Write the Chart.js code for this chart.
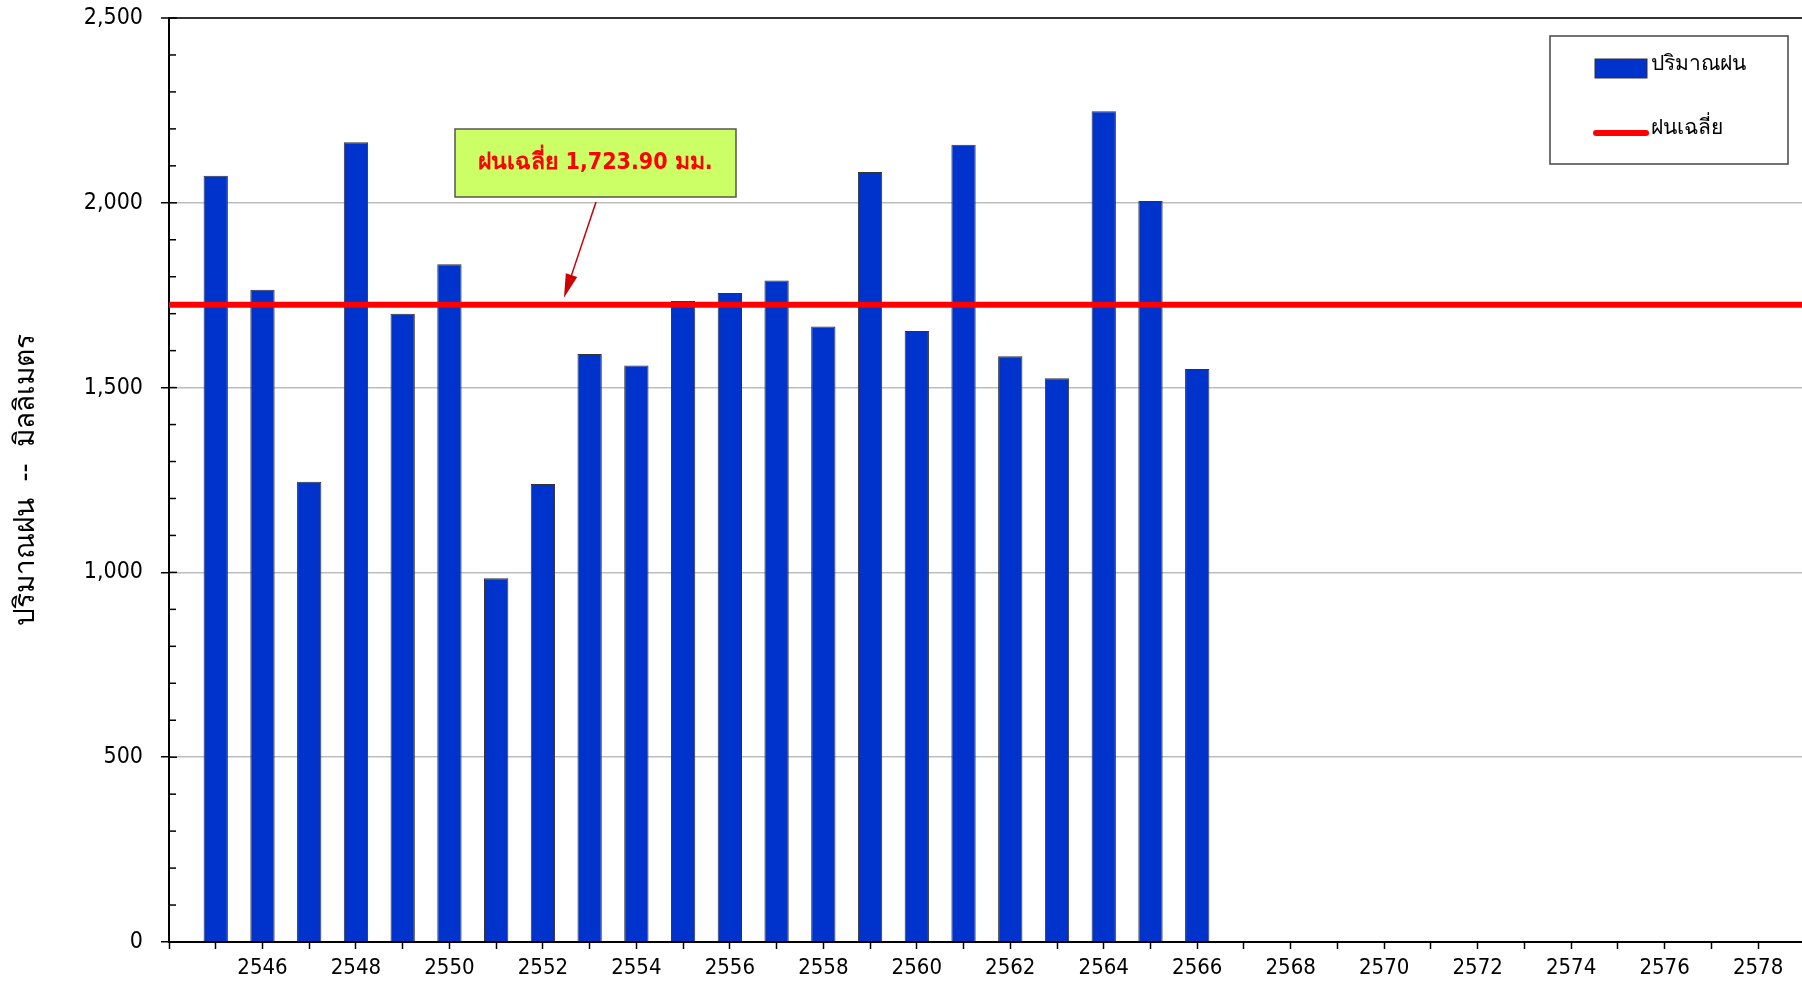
<!DOCTYPE html>
<html>
<head>
<meta charset="utf-8">
<script src="https://cdn.jsdelivr.net/npm/chart.js@4.4.1/dist/chart.umd.min.js"></script>
<style>
  html, body { margin: 0; padding: 0; background: #fff; }
  #wrap { width: 1802px; height: 982px; position: relative; }
</style>
</head>
<body>
<div id="wrap"><canvas id="rainChart"></canvas></div>
<script>
  // rain per year (Buddhist era), mm
  const years = [2545, 2546, 2547, 2548, 2549, 2550, 2551, 2552, 2553, 2554, 2555,
                 2556, 2557, 2558, 2559, 2560, 2561, 2562, 2563, 2564, 2565, 2566];
  const rainfall = [2073, 1765, 1245, 2164, 1700, 1834, 984, 1239, 1591, 1560, 1734,
                    1756, 1790, 1665, 2083, 1653, 2157, 1585, 1525, 2248, 2005, 1550];
  const avgRain = 1723.90;
  const xRange = [2544, 2578.94];
  const yTicks = [0, 500, 1000, 1500, 2000, 2500];

  const seriesLabels = ['ปริมาณฝน', 'ฝนเฉลี่ย'];
  const axisTitle = 'ปริมาณฝน  --  มิลลิเมตร';
  const noteText = 'ฝนเฉลี่ย 1,723.90 มม.';

  const FONT = 'Tahoma, "DejaVu Sans Condensed", "DejaVu Sans", sans-serif';
  const BLUE = '#0033CC';
  const RED = '#FF0000';

  // minor ticks inside the y axis + note box + legend box
  const extrasPlugin = {
    id: 'extras',
    afterDraw(chart) {
      const c = chart.ctx;
      const area = chart.chartArea;
      const ys = chart.scales.y;
      const xs = chart.scales.x;

      // ticks pointing into the plot
      c.save();
      c.strokeStyle = '#000';
      c.lineWidth = 1.5;
      ys.ticks.forEach(t => {
        const py = ys.getPixelForValue(t.value);
        const len = (t.value % 500 === 0) ? 8 : 7;
        c.beginPath();
        c.moveTo(area.left, py);
        c.lineTo(area.left + len, py);
        c.stroke();
      });
      c.restore();

      // annotation box
      const bx = 455, by = 129, bw = 281, bh = 68;
      c.save();
      c.fillStyle = '#CCFF66';
      c.strokeStyle = '#555';
      c.lineWidth = 1.5;
      c.fillRect(bx, by, bw, bh);
      c.strokeRect(bx, by, bw, bh);
      c.fillStyle = RED;
      c.font = 'bold 23px ' + FONT;
      c.textAlign = 'center';
      c.textBaseline = 'middle';
      c.fillText(noteText, bx + bw / 2, by + bh / 2);

      // arrow to average line
      const x0 = 596, y0 = 202;
      const x1 = xs.getPixelForValue(2552.45);
      const y1 = ys.getPixelForValue(avgRain) - 7;
      const ang = Math.atan2(y1 - y0, x1 - x0);
      c.strokeStyle = '#CC0000';
      c.fillStyle = '#CC0000';
      c.lineWidth = 1.5;
      c.beginPath();
      c.moveTo(x0, y0);
      c.lineTo(x1 - 20 * Math.cos(ang), y1 - 20 * Math.sin(ang));
      c.stroke();
      c.beginPath();
      c.moveTo(x1, y1);
      c.lineTo(x1 - 24 * Math.cos(ang) + 6 * Math.sin(ang), y1 - 24 * Math.sin(ang) - 6 * Math.cos(ang));
      c.lineTo(x1 - 24 * Math.cos(ang) - 6 * Math.sin(ang), y1 - 24 * Math.sin(ang) + 6 * Math.cos(ang));
      c.closePath();
      c.fill();
      c.restore();

      // legend
      const lx = 1550, ly = 36, lw = 238, lh = 128;
      c.save();
      c.fillStyle = '#fff';
      c.strokeStyle = '#444';
      c.lineWidth = 1.5;
      c.fillRect(lx, ly, lw, lh);
      c.strokeRect(lx, ly, lw, lh);
      c.fillStyle = BLUE;
      c.fillRect(1595, 59, 52, 19);
      c.strokeStyle = '#333';
      c.lineWidth = 1;
      c.strokeRect(1595, 59, 52, 19);
      c.strokeStyle = RED;
      c.lineWidth = 6;
      c.lineCap = 'round';
      c.beginPath();
      c.moveTo(1596, 133);
      c.lineTo(1646, 133);
      c.stroke();
      c.fillStyle = '#000';
      c.font = '21px ' + FONT;
      c.textAlign = 'left';
      c.textBaseline = 'middle';
      c.fillText(seriesLabels[0], 1651, 65);
      c.fillText(seriesLabels[1], 1651, 129);
      c.restore();
    }
  };

  new Chart(document.getElementById('rainChart'), {
    type: 'bar',
    data: {
      datasets: [
        {
          type: 'line',
          label: seriesLabels[1],
          data: xRange.map(x => ({ x: x, y: avgRain })),
          borderColor: RED,
          borderWidth: 6,
          pointRadius: 0,
          fill: false,
          order: 0
        },
        {
          label: seriesLabels[0],
          data: years.map((y, i) => ({ x: y, y: rainfall[i] })),
          backgroundColor: BLUE,
          borderColor: '#333',
          borderWidth: 1,
          barPercentage: 0.52,
          categoryPercentage: 1,
          order: 1
        }
      ]
    },
    options: {
      responsive: true,
      maintainAspectRatio: false,
      animation: false,
      layout: { padding: { top: 18, right: 0, left: 0, bottom: 0 } },
      plugins: {
        legend: { display: false },
        tooltip: { enabled: false }
      },
      scales: {
        x: {
          type: 'linear',
          offset: false,
          min: xRange[0],
          max: xRange[1],
          afterFit: s => { s.height = 40; s.paddingLeft = 0; s.paddingRight = 0; },
          afterBuildTicks: s => {
            s.ticks = [];
            for (let v = xRange[0]; v <= xRange[1]; v++) s.ticks.push({ value: v });
          },
          ticks: {
            autoSkip: false,
            maxRotation: 0,
            padding: 6,
            color: '#000',
            font: { family: FONT, size: 22 },
            callback: v => (v % 2 === 0 && v > xRange[0]) ? String(v) : ''
          },
          grid: {
            drawOnChartArea: false,
            offset: false,
            tickLength: 7,
            tickColor: '#000',
            tickWidth: 1.5
          },
          border: { color: '#000', width: 2 }
        },
        y: {
          min: 0,
          max: 2500,
          afterFit: s => { s.width = 169; s.paddingTop = 0; s.paddingBottom = 0; },
          afterBuildTicks: s => {
            s.ticks = [];
            for (let v = 0; v <= 2500; v += 100) s.ticks.push({ value: v });
          },
          ticks: {
            padding: 18,
            color: '#000',
            font: { family: FONT, size: 23 },
            callback: v => yTicks.includes(v) ? v.toLocaleString('en-US') : ''
          },
          grid: {
            color: ctx => {
              const v = ctx.tick ? ctx.tick.value : 0;
              if (v === 2500) return '#333';
              return (v % 500 === 0 && v > 0) ? '#BDBDBD' : 'rgba(0,0,0,0)';
            },
            lineWidth: ctx => (ctx.tick && ctx.tick.value === 2500) ? 2 : 1.5,
            tickLength: 8,
            tickColor: ctx => (ctx.tick && ctx.tick.value % 500 === 0) ? '#000' : 'rgba(0,0,0,0)',
            tickWidth: 1.5
          },
          border: { color: '#000', width: 2 },
          title: {
            display: true,
            text: axisTitle,
            color: '#000',
            font: { family: FONT, size: 28 },
            padding: { top: 10, bottom: 0 }
          }
        }
      }
    },
    plugins: [extrasPlugin]
  });
</script>
</body>
</html>
